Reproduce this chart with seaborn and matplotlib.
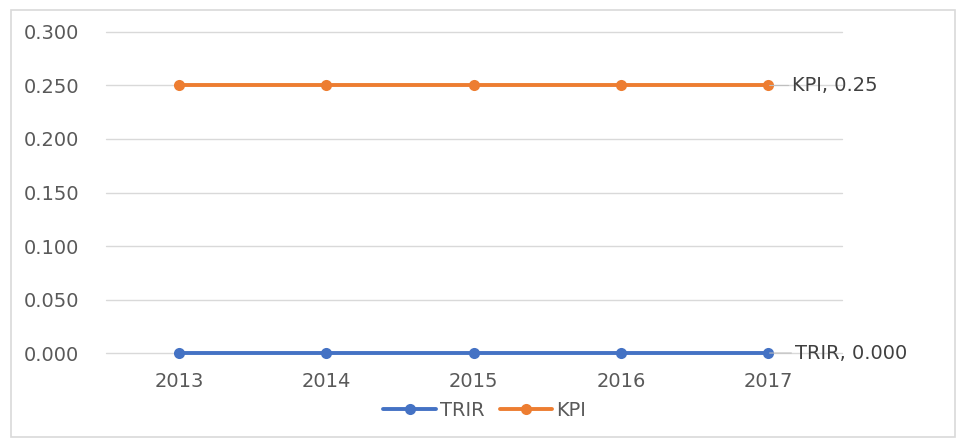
import matplotlib
matplotlib.use("Agg")
import matplotlib.pyplot as plt
import seaborn as sns
import pandas as pd
from matplotlib.patches import Rectangle
from matplotlib.lines import Line2D

years = ["2013", "2014", "2015", "2016", "2017"]
trir = [0.0, 0.0, 0.0, 0.0, 0.0]
kpi = [0.25, 0.25, 0.25, 0.25, 0.25]
yticks = [0.0, 0.05, 0.10, 0.15, 0.20, 0.25, 0.30]

sns.set_theme(style="white")
plt.rcParams['font.family'] = ['DejaVu Sans']

df = pd.DataFrame({
    "Year": years * 2,
    "Value": trir + kpi,
    "Series": ["TRIR"] * len(years) + ["KPI"] * len(years),
})

fig = plt.figure(figsize=(9.6, 4.38), dpi=100)
ax = fig.add_axes([0.110, 0.194, 0.767, 0.733])

palette = {"TRIR": "#4472C4", "KPI": "#ED7D31"}
sns.lineplot(data=df, x="Year", y="Value", hue="Series", palette=palette,
             marker="o", markersize=8, markeredgewidth=0, linewidth=2.8,
             sort=False, ax=ax, legend=False)
for ln in ax.lines:
    ln.set_clip_on(False)
    ln.set_zorder(3)

ax.set_xlim(-0.5, len(years) - 0.5)
ax.set_ylim(0, 0.3)
ax.set_yticks(yticks)
ax.set_yticklabels([f"{v:.3f}" for v in yticks])
ax.yaxis.grid(True, color="#D9D9D9", linewidth=1)
for gl in ax.get_ygridlines():
    gl.set_clip_on(False)
ax.set_axisbelow(True)
for s in ax.spines.values():
    s.set_visible(False)
ax.tick_params(axis="both", length=0, colors="#595959", labelsize=14)
ax.tick_params(axis="y", pad=19)
ax.tick_params(axis="x", pad=14)
ax.set_xlabel("")
ax.set_ylabel("")

last = len(years) - 1
ax.annotate(f"KPI, {kpi[-1]:.2f}", xy=(last, kpi[-1]), xytext=(17, 0),
            textcoords="offset points", va="center", ha="left",
            color="#404040", fontsize=14, annotation_clip=False,
            arrowprops=dict(arrowstyle="-", color="#BFBFBF", lw=0.8,
                            shrinkA=0, shrinkB=1))
ax.annotate(f"TRIR, {trir[-1]:.3f}", xy=(last, trir[-1]), xytext=(19, 0),
            textcoords="offset points", va="center", ha="left",
            color="#404040", fontsize=14, annotation_clip=False,
            arrowprops=dict(arrowstyle="-", color="#BFBFBF", lw=0.8,
                            shrinkA=0, shrinkB=1))

handles = [Line2D([0], [0], color=palette[k], lw=2.8, marker="o", markersize=8,
                  markeredgewidth=0) for k in ["TRIR", "KPI"]]
fig.legend(handles, ["TRIR", "KPI"], loc="center", bbox_to_anchor=(0.505, 0.063),
           ncol=2, frameon=False, fontsize=14, handlelength=2.7,
           columnspacing=0.8, handletextpad=0.2, labelcolor="#595959")

fig.patches.append(Rectangle((11 / 960, 1 / 438), 944 / 960, 427 / 438,
                             transform=fig.transFigure, fill=False,
                             edgecolor="#D9D9D9", linewidth=1.2))

fig.savefig("out.png", dpi=100)
